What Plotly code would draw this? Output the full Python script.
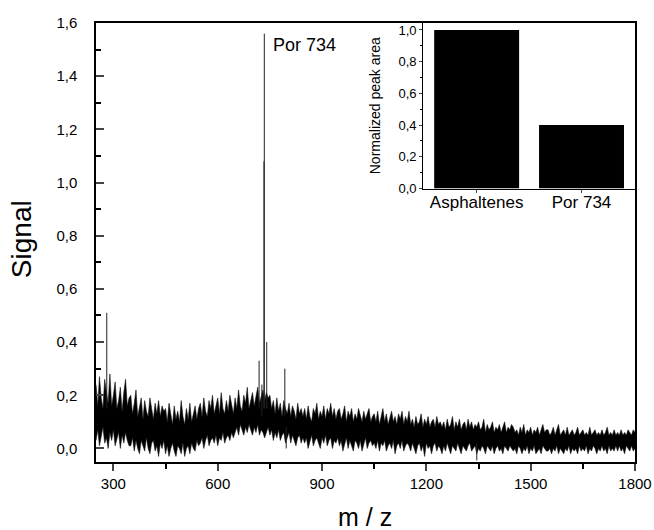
import plotly.graph_objects as go

# ---------------- data ----------------
mz_start, mz_step = 250, 5
band_hi = [
    0.24,0.16,0.27,0.19,0.15,0.26,0.21,0.17,0.28,0.16,0.20,0.25,0.15,0.18,0.23,0.14,0.21,0.26,0.16,0.19,
    0.20,0.13,0.17,0.22,0.12,0.15,0.19,0.11,0.18,0.14,0.12,0.19,0.15,0.11,0.17,0.13,0.18,0.12,0.16,0.14,
    0.15,0.10,0.17,0.12,0.09,0.16,0.11,0.14,0.10,0.18,0.12,0.09,0.15,0.11,0.17,0.10,0.13,0.16,0.11,0.15,
    0.17,0.12,0.19,0.14,0.12,0.18,0.15,0.20,0.13,0.16,0.19,0.13,0.21,0.15,0.13,0.18,0.14,0.20,0.16,0.13,
    0.19,0.15,0.22,0.16,0.14,0.20,0.17,0.23,0.15,0.18,0.21,0.16,0.19,0.23,0.17,0.20,0.22,0.18,0.21,0.19,
    0.20,0.15,0.18,0.13,0.19,0.14,0.17,0.12,0.18,0.15,0.13,0.17,0.12,0.16,0.14,0.11,0.17,0.13,0.15,0.12,
    0.15,0.11,0.16,0.12,0.10,0.15,0.13,0.17,0.11,0.14,0.12,0.16,0.11,0.15,0.13,0.17,0.12,0.15,0.11,0.14,
    0.15,0.11,0.13,0.16,0.10,0.14,0.12,0.15,0.10,0.13,0.11,0.15,0.12,0.10,0.14,0.11,0.13,0.15,0.10,0.12,
    0.13,0.10,0.14,0.09,0.12,0.15,0.10,0.13,0.09,0.12,0.14,0.10,0.12,0.09,0.13,0.11,0.14,0.09,0.12,0.10,
    0.14,0.09,0.11,0.08,0.12,0.09,0.10,0.13,0.08,0.11,0.09,0.12,0.08,0.10,0.11,0.08,0.12,0.09,0.10,0.08,
    0.10,0.07,0.11,0.08,0.09,0.12,0.07,0.10,0.08,0.11,0.07,0.09,0.10,0.07,0.11,0.08,0.10,0.07,0.09,0.08,
    0.10,0.07,0.08,0.11,0.06,0.09,0.07,0.08,0.10,0.06,0.08,0.07,0.09,0.06,0.08,0.10,0.06,0.08,0.07,0.09,
    0.08,0.06,0.07,0.05,0.08,0.06,0.09,0.05,0.07,0.06,0.08,0.05,0.07,0.06,0.08,0.05,0.07,0.09,0.06,0.07,
    0.07,0.05,0.06,0.08,0.05,0.07,0.09,0.05,0.06,0.07,0.05,0.08,0.05,0.06,0.07,0.05,0.06,0.08,0.05,0.06,
    0.07,0.05,0.06,0.05,0.08,0.05,0.06,0.07,0.05,0.06,0.05,0.07,0.05,0.06,0.08,0.05,0.06,0.05,0.07,0.05,
    0.06,0.05,0.07,0.05,0.06,0.05,0.07,0.06,0.05,0.07,0.06,
]
band_lo = [
    0.03,0.07,0.01,0.05,0.08,0.02,0.04,0.00,0.06,0.03,0.07,0.01,0.04,0.06,0.00,0.05,0.02,0.06,0.03,0.01,
    0.01,0.04,-0.01,0.03,0.00,-0.02,0.03,0.01,-0.01,0.04,0.00,-0.02,0.02,0.03,-0.01,0.01,-0.03,0.02,0.00,0.03,
    -0.02,0.01,-0.03,0.00,0.02,-0.01,-0.03,0.01,0.00,-0.02,0.02,-0.03,0.00,0.01,-0.02,0.02,0.00,-0.01,0.03,0.01,
    0.02,0.04,0.00,0.03,0.05,0.01,0.03,0.04,0.02,0.05,0.01,0.04,0.03,0.06,0.02,0.04,0.05,0.03,0.06,0.04,
    0.06,0.08,0.05,0.09,0.07,0.05,0.08,0.06,0.09,0.07,0.05,0.08,0.06,0.09,0.05,0.07,0.06,0.04,0.06,0.08,
    0.05,0.07,0.03,0.06,0.04,0.07,0.03,0.05,0.06,0.02,0.04,0.06,0.02,0.05,0.03,0.01,0.04,0.05,0.02,0.04,
    0.02,0.04,0.00,0.03,0.05,0.01,0.03,0.04,0.02,0.00,0.04,0.02,0.05,0.01,0.03,0.04,0.00,0.03,0.02,0.04,
    0.01,0.03,-0.01,0.02,0.04,0.00,0.03,0.01,-0.01,0.03,0.02,0.00,0.03,-0.01,0.02,0.04,0.00,0.02,0.03,0.01,
    0.02,0.00,0.03,-0.01,0.02,0.01,0.03,-0.01,0.01,0.02,0.00,0.03,-0.02,0.01,0.02,0.00,0.03,-0.01,0.01,0.02,
    0.01,-0.01,0.02,0.00,-0.02,0.01,0.02,-0.01,0.01,-0.03,0.02,0.00,0.01,-0.02,0.01,0.02,-0.01,0.01,0.00,-0.02,
    0.01,-0.01,0.02,0.00,-0.02,0.01,0.00,-0.01,0.02,0.00,-0.02,0.01,0.00,-0.01,0.01,0.02,-0.01,0.00,0.01,-0.02,
    0.00,-0.01,0.01,0.00,-0.02,0.01,0.00,-0.01,0.01,-0.02,0.00,0.01,-0.01,0.00,-0.02,0.01,0.00,-0.01,0.01,0.00,
    -0.01,0.00,-0.02,0.01,0.00,-0.02,0.00,-0.01,0.01,-0.02,0.00,-0.01,0.01,-0.02,-0.01,0.00,-0.02,0.01,0.00,-0.01,
    -0.01,0.00,-0.02,0.00,-0.01,0.01,-0.02,0.00,-0.01,-0.02,0.00,-0.01,0.01,-0.02,0.00,-0.01,0.00,-0.02,0.01,-0.01,
    0.00,-0.01,0.01,-0.02,0.00,-0.01,0.01,0.00,-0.02,0.00,-0.01,0.01,-0.01,0.00,-0.02,0.01,-0.01,0.00,-0.01,0.01,
    -0.01,0.01,-0.01,0.00,-0.02,0.01,0.00,-0.01,0.01,-0.01,0.00,
]
band_mz = [mz_start + mz_step * i for i in range(len(band_hi))]

# isolated spikes: m/z, base, tip
spike_mz = [281, 719, 727, 733, 734, 741, 793, 797, 1345]
spike_base = [0.15, 0.15, 0.12, 0.15, 0.15, 0.15, 0.12, 0.08, 0.02]
spike_tip = [0.51, 0.33, 0.24, 1.08, 1.56, 0.40, 0.30, 0.00, -0.045]

inset_cats = ["Asphaltenes", "Por 734"]
inset_vals = [1.0, 0.40]

x_ticks = [300, 600, 900, 1200, 1500, 1800]

# ---------------- figure ----------------
FONT = "Arial, 'Liberation Sans', sans-serif"
fig = go.Figure()

fig.add_trace(go.Scatter(x=band_mz, y=band_lo, mode="lines",
                         line=dict(color="#111111", width=0.6),
                         showlegend=False, hoverinfo="skip"))
fig.add_trace(go.Scatter(x=band_mz, y=band_hi, mode="lines",
                         line=dict(color="#111111", width=0.6),
                         fill="tonexty", fillcolor="black",
                         showlegend=False, hoverinfo="skip"))

sx, sy = [], []
for m, b, t in zip(spike_mz, spike_base, spike_tip):
    sx += [m, m, None]
    sy += [b, t, None]
fig.add_trace(go.Scatter(x=sx, y=sy, mode="lines",
                         line=dict(color="#222222", width=1),
                         showlegend=False, hoverinfo="skip"))

fig.add_trace(go.Bar(x=inset_cats, y=inset_vals, xaxis="x2", yaxis="y2",
                     marker=dict(color="black", line=dict(color="black", width=0)),
                     width=0.81, showlegend=False))

fig.update_layout(
    width=654, height=530,
    margin=dict(l=96, r=19, t=23, b=68, autoexpand=False),
    paper_bgcolor="white", plot_bgcolor="white",
    separators=",.",
    font=dict(family=FONT, color="black", size=14),
    xaxis=dict(range=[250, 1800], tickvals=x_ticks, ticks="outside", ticklen=7,
               tickwidth=1.5, showline=True, linewidth=1.5, linecolor="black",
               mirror=True, showgrid=False, zeroline=False, automargin=False,
               ticklabeloverflow="allow",
               minor=dict(tickvals=[450, 750, 1050, 1350, 1650], ticks="outside",
                          ticklen=5, tickwidth=1.5, tickcolor="black"),
               tickfont=dict(size=15)),
    yaxis=dict(range=[-0.051, 1.6], dtick=0.2, tick0=0, tickformat=".1f",
               ticks="inside", ticklen=8, tickwidth=1.5, showline=True,
               linewidth=1.5, linecolor="black", mirror=True, showgrid=False,
               zeroline=False, ticklabelstandoff=14, automargin=False,
               minor=dict(dtick=0.1, ticks="inside", ticklen=5, tickwidth=1.5,
                          tickcolor="black"),
               tickfont=dict(size=15)),
    xaxis2=dict(domain=[0.607, 1.0], anchor="y2", range=[-0.51, 1.51],
                showline=True, linewidth=1, linecolor="black", ticks="outside",
                ticklen=3, showgrid=False, zeroline=False, automargin=False,
                ticklabelstandoff=-5, tickfont=dict(size=17)),
    yaxis2=dict(domain=[0.623, 1.0], anchor="x2", range=[0, 1.044], dtick=0.2,
                tickformat=".1f", showline=True, linewidth=1, linecolor="black",
                ticks="outside", ticklen=3, showgrid=False, zeroline=False,
                automargin=False, tickfont=dict(size=13),
                minor=dict(dtick=0.1, ticks="outside", ticklen=2, tickcolor="black"),
                title=dict(text="Normalized peak area", font=dict(size=14), standoff=14)),
    annotations=[
        dict(text="Por 734", x=752, xref="x", y=0.949, yref="paper",
             xanchor="left", yanchor="middle", showarrow=False,
             font=dict(size=18)),
        dict(text="Signal", x=-0.137, xref="paper", y=0.508, yref="paper",
             textangle=-90, showarrow=False, xanchor="center", yanchor="middle",
             font=dict(size=28)),
        dict(text="m / z", x=0.499, xref="paper", y=-0.126, yref="paper",
             showarrow=False, xanchor="center", yanchor="middle",
             font=dict(size=25)),
    ],
)

fig.write_html("out.html", config={"displayModeBar": False},
               post_script="document.body.style.margin='0';document.body.style.overflow='hidden';")
